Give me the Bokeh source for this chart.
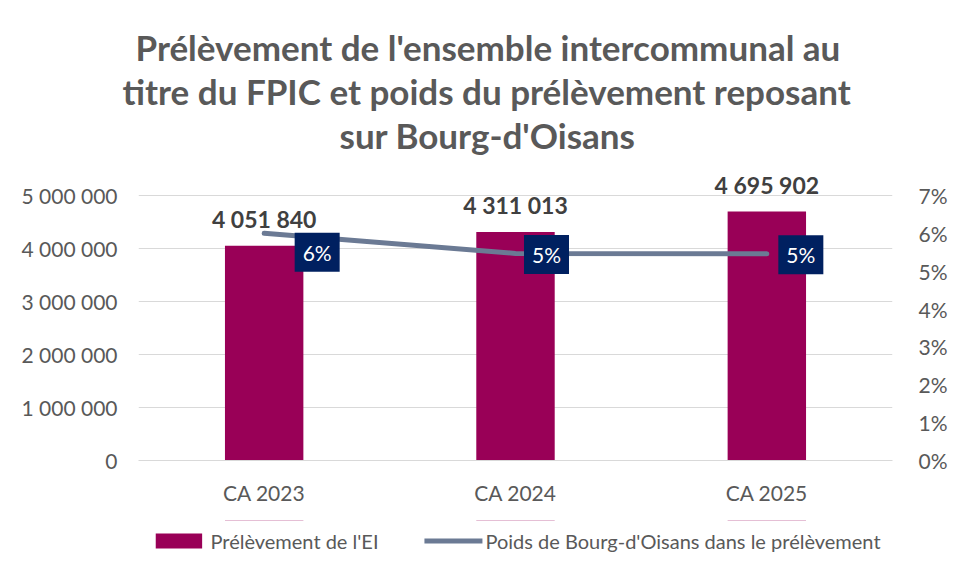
from bokeh.plotting import figure
from bokeh.layouts import column
from bokeh.models import (Range1d, LinearAxis, FixedTicker, Legend, LegendItem, Title,
                          ColumnDataSource, FactorRange, NumeralTickFormatter)
from bokeh.core.properties import value
from bokeh.embed import file_html
from bokeh.resources import INLINE

# ---- data ----
categories = ["CA 2023", "CA 2024", "CA 2025"]
prelevement = [4051840, 4311013, 4695902]
poids = [0.0600, 0.0547, 0.0546]
left_ticks = [0, 1000000, 2000000, 3000000, 4000000, 5000000]
right_ticks = [0.00, 0.01, 0.02, 0.03, 0.04, 0.05, 0.06, 0.07]
title_lines = ["Prélèvement de l'ensemble intercommunal au",
               "titre du FPIC et poids du prélèvement reposant",
               "sur Bourg-d'Oisans"]
title_offsets = [-3, -16, 201]
bar_name = "Prélèvement de l'EI"
line_name = "Poids de Bourg-d'Oisans dans le prélèvement"

FONT = "Lato"
GRAY = "#595959"
BAR_COLOR = "#990057"
LINE_COLOR = "#6b7a94"

def fmt_space(v):
    return f"{int(v):,}".replace(",", " ")

src = ColumnDataSource(dict(
    cat=categories,
    val=prelevement,
    val_txt=[fmt_space(v) for v in prelevement],
    pct=poids,
    pct_txt=[f"{round(v * 100)}%" for v in poids],
    pct_dx=[53, 31, 34],
    pct_dy=[19, 1, 1],
))

# main chart: frame x 138..897, y 155..460 ; 5 000 000 / 7% sit 265 px above the baseline
TOP, BASE, H1 = 155, 460, 520
FRAME_H = BASE - TOP
p = figure(width=950, height=H1, x_range=FactorRange(*categories),
           y_range=Range1d(0, 5000000 * FRAME_H / 265), output_backend="svg",
           toolbar_location=None,
           min_border_left=138, min_border_right=53, min_border_top=TOP,
           min_border_bottom=H1 - BASE)
p.extra_y_ranges = {"pct": Range1d(0, 0.07 * FRAME_H / 265)}
p.outline_line_color = None
p.background_fill_color = "white"
p.border_fill_color = "white"

bars = p.vbar(x="cat", top="val", width=0.312, source=src,
              fill_color=BAR_COLOR, line_color=None)
line = p.line(x="cat", y="pct", source=src, y_range_name="pct",
              line_width=5, line_color=LINE_COLOR, line_cap="round", line_join="round")

p.text(x="cat", y="val", text="val_txt", source=src, y_offset=-27,
       text_align="center", text_baseline="middle", text_color="#404040",
       text_font=value(FONT), text_font_style="bold", text_font_size="23px")

p.text(x="cat", y="pct", text="pct_txt", source=src, y_range_name="pct",
       x_offset="pct_dx", y_offset="pct_dy",
       text_align="center", text_baseline="middle", text_color="white",
       text_font=value(FONT), text_font_size="21px",
       background_fill_color="#002060", padding=(8, 7))

# axes
p.xgrid.visible = False
p.ygrid.ticker = FixedTicker(ticks=left_ticks)
p.ygrid.grid_line_color = "#d9d9d9"

yl = p.yaxis[0]
yl.ticker = FixedTicker(ticks=left_ticks)
yl.major_label_overrides = {t: fmt_space(t) for t in left_ticks}
yr = LinearAxis(y_range_name="pct", ticker=FixedTicker(ticks=right_ticks),
                formatter=NumeralTickFormatter(format="0%"))
p.add_layout(yr, "right")
for ax in (yl, yr):
    ax.axis_line_color = None
    ax.major_tick_line_color = None
    ax.minor_tick_line_color = None
    ax.major_label_text_font = FONT
    ax.major_label_text_font_size = "21px"
    ax.major_label_text_color = GRAY
yl.major_label_standoff = 15
yr.major_label_standoff = 20

xa = p.xaxis[0]
xa.axis_line_color = "#d9d9d9"
xa.major_tick_line_color = None
xa.minor_tick_line_color = None
xa.major_label_standoff = 13
xa.major_label_text_font = FONT
xa.major_label_text_font_size = "21px"
xa.major_label_text_color = GRAY

# title: three lines, the first added sits closest to the plot area
for t, off in reversed(list(zip(title_lines, title_offsets))):
    p.add_layout(Title(text=t, align="left", offset=off, standoff=0,
                       text_font=FONT, text_font_style="bold", text_font_size="35px",
                       text_color=GRAY), "above")

# legend strip below the chart (its renderers use the same data, out of its view)
pl = figure(width=950, height=561 - H1, x_range=FactorRange(*categories),
            y_range=Range1d(-2, -1), output_backend="svg", toolbar_location=None,
            x_axis_type=None, y_axis_type=None,
            min_border_left=0, min_border_right=0, min_border_top=0, min_border_bottom=0)
pl.grid.visible = False
pl.outline_line_color = None
lg_bar = pl.vbar(x="cat", top="val", bottom="val", width=0.312, source=src,
                 fill_color=BAR_COLOR, line_color=None)
lg_line = pl.line(x="cat", y="pct", source=src, line_width=5, line_color=LINE_COLOR,
                  line_cap="round")
legend = Legend(items=[LegendItem(label=bar_name, renderers=[lg_bar]),
                       LegendItem(label=line_name, renderers=[lg_line])],
                orientation="horizontal", location="center",
                glyph_width=58, glyph_height=19, label_standoff=3, spacing=46,
                padding=0, margin=0, border_line_color=None, background_fill_alpha=0,
                label_text_font=FONT, label_text_font_size="20px", label_text_color=GRAY)
pl.add_layout(legend, "center")

layout = column(p, pl, spacing=0)
open("out.html", "w").write(file_html(layout, INLINE))
